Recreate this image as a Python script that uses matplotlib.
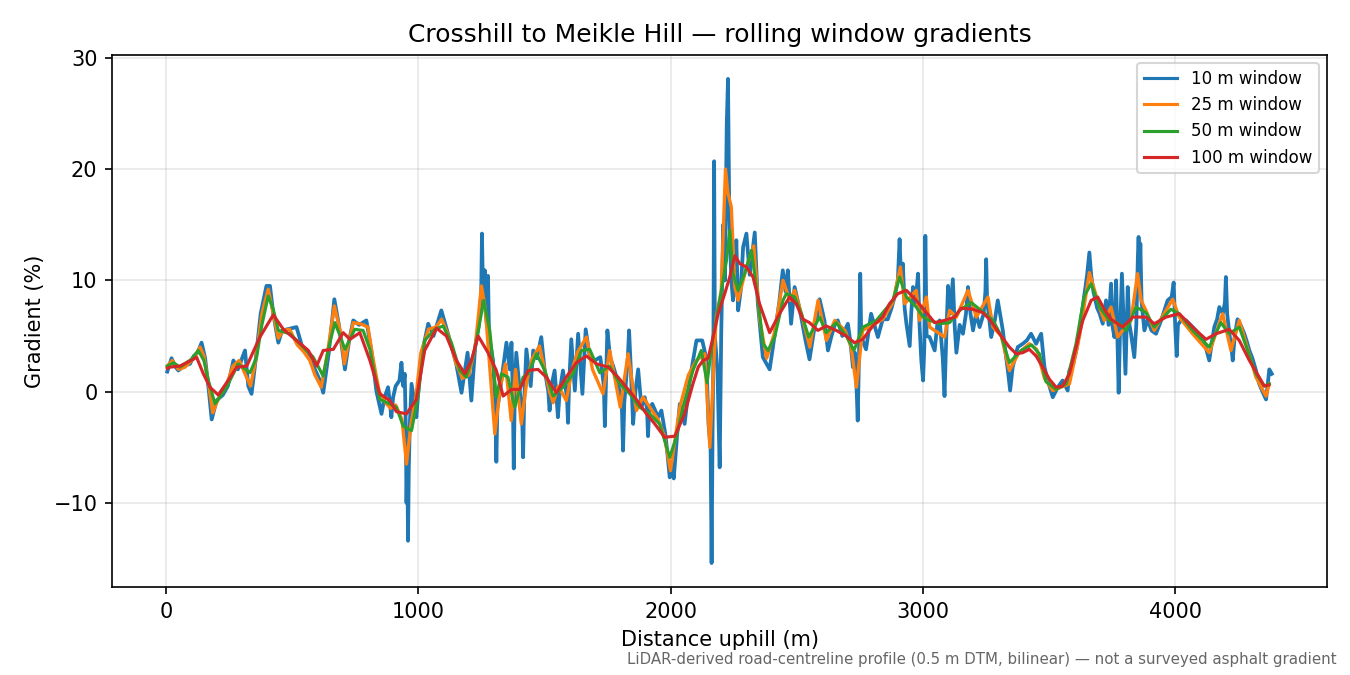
import matplotlib
matplotlib.use("Agg")
import matplotlib.pyplot as plt

# Each series: (distance uphill in m, gradient in %)

# ---- 10 m window ----
window_10 = [
    (5, 1.8), (22, 3.0), (35, 2.3), (49, 1.9), (70, 2.3), (95, 2.5), (110, 3.2), (125, 3.5), (141, 4.4), (155, 3.0),
    (170, 0.0), (181, -2.5), (200, -0.8), (225, -0.3), (245, 0.5), (267, 2.8), (285, 2.0), (313, 3.7), (326, 0.5), (339, -0.2),
    (355, 2.8), (375, 7.0), (398, 9.5), (412, 9.5), (425, 7.0), (445, 4.4), (460, 5.5), (480, 5.6), (517, 5.8), (540, 4.0),
    (565, 3.5), (590, 2.0), (610, 1.0), (623, -0.1), (645, 3.5), (667, 8.3), (685, 6.0), (709, 2.0), (725, 4.5), (742, 6.4),
    (765, 6.0), (794, 6.4), (815, 3.5), (834, 0.0), (854, -2.0), (866, -0.5), (880, 0.4), (887, -1.0), (893, -2.3), (900, -0.5),
    (910, 0.5), (925, 1.0), (933, 2.6), (940, 0.5), (946, 1.6), (950, -3.0), (953, -10.0), (956, -6.0), (959, -13.4), (962, -7.0),
    (966, -3.0), (973, 0.7), (985, -1.0), (992, -2.3), (1000, 0.0), (1010, 3.0), (1039, 6.1), (1060, 5.0), (1091, 7.3), (1120, 5.0),
    (1150, 2.5), (1171, -0.1), (1185, 2.0), (1195, 3.5), (1210, -0.8), (1225, 4.0), (1240, 6.0), (1249, 9.0), (1252, 14.2), (1256, 9.0),
    (1260, 8.0), (1263, 10.9), (1267, 7.0), (1272, 6.0), (1276, 10.4), (1280, 5.0), (1296, 2.8), (1305, -1.0), (1309, -6.3), (1313, -1.5),
    (1322, -0.2), (1335, 2.0), (1349, 4.4), (1362, 2.0), (1369, 4.4), (1374, 0.0), (1378, -6.9), (1382, 0.0), (1388, 3.5), (1400, 0.5),
    (1411, -2.0), (1415, -5.9), (1419, -1.0), (1428, 3.8), (1445, 0.5), (1455, 3.7), (1470, 3.0), (1487, 4.9), (1500, 2.0), (1515, 0.0),
    (1520, -1.7), (1527, 0.5), (1540, 1.9), (1553, -2.3), (1560, 0.0), (1573, 1.9), (1589, -0.5), (1593, -2.8), (1597, 0.5), (1606, 4.7),
    (1620, 0.1), (1633, 5.2), (1650, -0.2), (1663, 5.6), (1680, 3.0), (1699, 2.8), (1721, 3.1), (1735, 0.5), (1739, -3.1), (1743, 0.5),
    (1749, 5.5), (1760, 3.0), (1772, 2.3), (1789, 1.0), (1806, -1.0), (1811, -5.3), (1816, -1.0), (1830, 3.0), (1835, 5.5), (1840, 3.0),
    (1851, -2.9), (1860, 0.0), (1871, 2.0), (1884, -1.4), (1897, -0.5), (1906, -1.5), (1910, -4.0), (1915, -1.5), (1927, -1.1), (1950, -2.3),
    (1963, -1.7), (1980, -4.0), (1996, -7.7), (2004, -6.5), (2012, -7.8), (2025, -4.0), (2036, -1.1), (2045, -1.5), (2055, -2.9), (2075, 1.0),
    (2090, 3.0), (2102, 4.6), (2125, 4.6), (2141, 3.0), (2150, -3.0), (2158, -5.0), (2162, -15.4), (2166, -3.0), (2169, 3.0), (2172, 20.7),
    (2175, 5.0), (2185, 2.0), (2194, -6.8), (2200, 5.0), (2208, 15.0), (2215, 10.0), (2222, 24.0), (2227, 28.1), (2232, 16.0), (2240, 10.0),
    (2247, 8.2), (2253, 10.0), (2260, 13.6), (2267, 7.3), (2277, 9.0), (2287, 13.0), (2300, 14.2), (2313, 10.5), (2333, 14.3), (2345, 8.0),
    (2365, 3.1), (2392, 2.0), (2405, 4.0), (2418, 6.1), (2430, 8.0), (2444, 10.9), (2455, 9.0), (2464, 10.9), (2477, 6.1), (2491, 9.4),
    (2505, 8.0), (2517, 6.7), (2535, 4.5), (2550, 2.9), (2570, 5.8), (2582, 7.0), (2590, 8.3), (2609, 6.4), (2623, 3.7), (2636, 4.9),
    (2650, 6.0), (2662, 6.4), (2680, 5.0), (2702, 6.1), (2712, 4.5), (2722, 2.2), (2730, 3.5), (2737, 0.0), (2741, -2.6), (2746, 3.0),
    (2751, 10.6), (2755, 5.0), (2762, 4.5), (2774, 3.8), (2794, 7.0), (2821, 4.9), (2840, 6.5), (2860, 6.5), (2875, 7.5), (2887, 8.5),
    (2900, 10.0), (2907, 13.7), (2913, 10.0), (2920, 11.5), (2927, 7.5), (2934, 6.1), (2947, 4.1), (2953, 7.0), (2960, 9.4), (2970, 8.0),
    (2980, 10.6), (2986, 6.0), (2993, 2.8), (3000, 1.0), (3005, 4.0), (3009, 14.0), (3014, 5.0), (3026, 4.9), (3046, 3.7), (3056, 6.0),
    (3066, 6.4), (3078, 3.0), (3085, -0.4), (3092, 5.0), (3099, 9.5), (3108, 7.0), (3118, 10.1), (3125, 6.0), (3132, 3.5), (3145, 6.0),
    (3158, 5.2), (3170, 7.0), (3178, 9.4), (3188, 7.0), (3198, 5.5), (3210, 7.0), (3224, 5.8), (3240, 7.0), (3247, 9.0), (3250, 11.9),
    (3254, 8.0), (3260, 7.0), (3270, 4.9), (3285, 6.5), (3296, 8.2), (3316, 5.5), (3329, 3.1), (3336, 1.9), (3345, 0.1), (3355, 2.2),
    (3375, 4.0), (3395, 4.3), (3411, 4.6), (3428, 5.2), (3448, 4.3), (3468, 5.2), (3481, 2.2), (3494, 1.0), (3514, -0.5), (3534, 0.4),
    (3553, 1.0), (3573, 0.1), (3580, 1.9), (3595, 2.5), (3610, 4.0), (3635, 8.0), (3650, 10.5), (3659, 12.5), (3666, 10.5), (3675, 9.0),
    (3690, 7.5), (3700, 7.0), (3712, 6.1), (3725, 8.2), (3735, 6.0), (3745, 9.7), (3750, 6.0), (3758, 4.9), (3765, 10.0), (3770, 5.0),
    (3775, -0.1), (3780, 5.0), (3788, 10.6), (3795, 6.0), (3802, 1.6), (3806, 5.0), (3811, 9.4), (3818, 6.0), (3824, 5.2), (3837, 3.1),
    (3845, 6.0), (3851, 12.0), (3854, 13.9), (3858, 10.0), (3861, 13.3), (3866, 8.0), (3877, 5.5), (3890, 6.5), (3905, 5.5), (3923, 5.2),
    (3945, 6.5), (3969, 8.2), (3985, 8.5), (3993, 9.8), (3999, 6.0), (4005, 3.2), (4010, 6.0), (4025, 6.5), (4042, 6.4), (4060, 6.0),
    (4081, 5.5), (4095, 5.0), (4108, 4.9), (4120, 4.0), (4134, 2.8), (4145, 4.5), (4154, 5.8), (4165, 6.5), (4174, 7.6), (4188, 7.0),
    (4196, 8.0), (4200, 10.3), (4205, 7.0), (4215, 5.0), (4222, 4.0), (4227, 2.8), (4235, 5.0), (4246, 6.5), (4258, 6.0), (4273, 5.2),
    (4283, 4.5), (4293, 3.7), (4305, 3.0), (4318, 2.0), (4332, 0.7), (4345, 0.0), (4359, -0.7), (4365, 0.5), (4372, 2.0), (4382, 1.6),
]

# ---- 25 m window ----
window_25 = [
    (5, 2.3), (25, 2.8), (50, 2.0), (75, 2.2), (110, 3.0), (135, 4.0), (150, 3.2), (170, 0.5), (185, -1.9), (210, -0.5),
    (240, 0.6), (265, 2.3), (290, 2.8), (315, 1.5), (335, 0.5), (355, 2.8), (380, 7.0), (405, 9.2), (425, 7.0), (445, 4.8),
    (465, 5.5), (490, 5.6), (520, 4.2), (545, 3.6), (570, 2.8), (590, 1.5), (615, 0.4), (640, 3.5), (667, 7.7), (690, 5.5),
    (707, 2.5), (720, 4.0), (742, 6.2), (770, 6.1), (800, 5.8), (820, 3.0), (845, 0.0), (870, -1.0), (890, -1.5), (910, -1.2),
    (935, -2.5), (953, -6.5), (970, -3.0), (990, -0.5), (1010, 3.5), (1040, 5.6), (1070, 5.8), (1092, 6.5), (1120, 5.0), (1150, 2.5),
    (1175, 1.2), (1200, 1.5), (1225, 4.0), (1250, 9.5), (1265, 7.5), (1280, 3.0), (1303, -3.8), (1325, 0.5), (1345, 2.5), (1368, -2.6),
    (1385, 2.0), (1408, -2.9), (1430, 1.0), (1452, 3.0), (1480, 4.1), (1500, 2.0), (1520, 0.0), (1534, -1.0), (1555, 0.5), (1586, -0.8),
    (1610, 2.0), (1630, 3.5), (1666, 4.9), (1690, 2.0), (1732, -0.2), (1758, 3.7), (1800, -1.4), (1831, 3.4), (1864, -1.7), (1890, -0.5),
    (1920, -1.5), (1950, -2.5), (1975, -4.0), (1999, -7.1), (2036, -1.4), (2070, 1.5), (2102, 2.8), (2135, 3.4), (2155, -5.0), (2180, 6.7),
    (2200, 9.0), (2217, 20.0), (2227, 17.8), (2240, 16.6), (2254, 9.4), (2267, 8.2), (2300, 11.2), (2329, 13.1), (2353, 6.4), (2380, 3.0),
    (2410, 5.2), (2445, 10.0), (2472, 8.2), (2491, 9.1), (2518, 7.0), (2551, 4.0), (2584, 8.2), (2617, 4.6), (2650, 6.4), (2690, 5.5),
    (2715, 4.0), (2736, 0.4), (2760, 5.5), (2800, 6.0), (2840, 6.5), (2880, 8.0), (2910, 11.2), (2927, 7.9), (2973, 9.1), (2986, 6.4),
    (3013, 8.5), (3026, 5.8), (3085, 4.9), (3105, 7.3), (3132, 6.7), (3178, 9.1), (3211, 6.7), (3257, 8.5), (3277, 5.8), (3310, 5.0),
    (3342, 1.9), (3380, 3.5), (3421, 4.3), (3450, 3.8), (3481, 1.2), (3514, 0.1), (3580, 0.7), (3620, 5.0), (3659, 10.7), (3699, 7.6),
    (3718, 6.4), (3745, 7.6), (3771, 4.9), (3791, 5.5), (3824, 6.4), (3850, 10.6), (3864, 8.2), (3883, 7.3), (3916, 5.5), (3989, 8.3),
    (4015, 6.7), (4068, 5.2), (4134, 3.5), (4187, 7.0), (4220, 3.7), (4253, 6.4), (4319, 1.3), (4359, -0.4), (4372, 0.7),
]

# ---- 50 m window ----
window_50 = [
    (5, 2.3), (30, 2.6), (55, 2.2), (100, 2.9), (128, 3.7), (150, 2.8), (168, 1.0), (194, -1.1), (240, 0.4), (286, 2.5),
    (333, 1.7), (359, 3.1), (380, 6.0), (405, 8.6), (425, 7.4), (445, 5.5), (491, 5.2), (544, 4.0), (583, 3.1), (623, 1.4),
    (645, 4.0), (669, 6.2), (690, 5.0), (709, 3.8), (748, 5.6), (781, 5.5), (808, 3.8), (847, -0.7), (887, -1.1), (913, -1.4),
    (940, -3.1), (973, -3.5), (1000, -0.2), (1025, 4.6), (1065, 5.6), (1098, 5.9), (1131, 4.4), (1164, 1.9), (1190, 1.3), (1223, 3.7),
    (1259, 8.2), (1283, 5.5), (1309, -0.5), (1329, 1.6), (1355, 1.3), (1382, -1.4), (1415, 1.3), (1435, 1.6), (1468, 3.4), (1501, 1.9),
    (1534, -0.4), (1573, 0.4), (1613, 1.6), (1646, 3.7), (1679, 3.8), (1719, 1.7), (1758, 2.3), (1798, 0.7), (1838, -0.2), (1877, -1.4),
    (1917, -2.0), (1956, -2.9), (1996, -5.9), (2022, -4.1), (2049, -1.4), (2088, 1.9), (2121, 3.7), (2144, 0.8), (2168, 5.0), (2194, 8.2),
    (2221, 11.8), (2234, 14.5), (2247, 10.6), (2267, 9.1), (2293, 10.6), (2320, 12.7), (2346, 8.2), (2366, 4.3), (2386, 3.7), (2412, 4.9),
    (2445, 8.2), (2458, 8.8), (2491, 8.5), (2518, 7.0), (2547, 4.9), (2590, 6.7), (2616, 5.3), (2656, 6.2), (2696, 5.0), (2726, 3.7),
    (2762, 5.8), (2815, 6.4), (2881, 8.2), (2907, 10.3), (2934, 8.5), (2973, 7.6), (3000, 6.7), (3026, 6.4), (3066, 6.1), (3105, 6.2),
    (3145, 7.3), (3191, 8.0), (3224, 7.4), (3277, 6.4), (3310, 5.0), (3342, 2.6), (3389, 3.7), (3430, 4.2), (3461, 3.4), (3487, 0.9),
    (3527, 0.2), (3567, 0.7), (3606, 4.3), (3639, 8.6), (3666, 9.7), (3699, 7.6), (3738, 6.4), (3778, 6.1), (3804, 5.5), (3844, 7.6),
    (3883, 7.1), (3916, 5.8), (3982, 7.4), (4015, 7.0), (4068, 5.5), (4134, 4.0), (4180, 6.2), (4213, 5.2), (4253, 5.8), (4319, 1.6),
    (4352, 0.5), (4372, 0.7),
]

# ---- 100 m window ----
window_100 = [
    (5, 2.1), (16, 2.2), (55, 2.3), (108, 2.9), (121, 3.1), (148, 1.6), (174, 0.4), (207, -0.3), (240, 0.8), (280, 2.2),
    (320, 2.3), (372, 4.9), (425, 6.9), (465, 5.6), (517, 4.6), (564, 3.7), (597, 2.3), (623, 3.7), (663, 3.8), (702, 5.3),
    (729, 4.7), (768, 5.3), (808, 2.8), (847, -0.2), (887, -0.8), (913, -1.8), (953, -2.0), (992, -0.7), (1025, 3.7), (1072, 5.7),
    (1111, 5.0), (1151, 2.8), (1184, 1.6), (1210, 2.8), (1237, 5.0), (1276, 3.5), (1309, 1.9), (1336, -0.4), (1369, 0.2), (1402, 0.2),
    (1435, 1.9), (1474, 2.0), (1507, 1.3), (1547, -0.1), (1586, 1.3), (1626, 2.6), (1666, 3.2), (1706, 2.5), (1752, 2.2), (1791, 1.3),
    (1831, 0.2), (1864, -0.7), (1904, -2.0), (1937, -2.9), (1976, -4.1), (2016, -4.0), (2055, -2.0), (2088, 0.7), (2109, 2.2), (2128, 2.8),
    (2148, 3.0), (2168, 4.9), (2188, 7.0), (2214, 8.8), (2234, 10.3), (2254, 12.2), (2274, 11.5), (2300, 11.2), (2326, 10.3), (2352, 7.9),
    (2392, 5.3), (2431, 7.0), (2471, 8.5), (2497, 7.9), (2524, 6.5), (2550, 6.2), (2583, 5.5), (2616, 5.9), (2656, 5.5), (2695, 5.0),
    (2728, 4.4), (2761, 4.7), (2801, 5.9), (2840, 6.7), (2867, 7.9), (2900, 8.8), (2934, 9.1), (2973, 8.2), (3013, 7.1), (3046, 6.2),
    (3085, 6.4), (3125, 6.7), (3151, 7.5), (3198, 7.4), (3237, 7.1), (3263, 6.5), (3303, 5.2), (3342, 4.0), (3369, 3.4), (3395, 3.5),
    (3421, 3.8), (3448, 3.2), (3474, 2.2), (3501, 1.1), (3527, 0.4), (3553, 0.5), (3580, 1.6), (3600, 3.4), (3633, 6.4), (3666, 8.2),
    (3692, 8.5), (3718, 7.4), (3745, 6.5), (3791, 5.8), (3831, 6.7), (3883, 6.7), (3916, 6.1), (3963, 6.7), (4015, 7.0), (4068, 5.8),
    (4121, 4.7), (4161, 5.2), (4213, 5.6), (4253, 4.6), (4293, 2.8), (4332, 1.3), (4352, 0.5), (4370, 0.6),
]

series_labels = ["10 m window", "25 m window", "50 m window", "100 m window"]
series_colors = ["#1f77b4", "#ff7f0e", "#2ca02c", "#d62728"]
series_widths = [1.8, 1.6, 1.5, 1.5]

fig = plt.figure(figsize=(9, 4.5), dpi=150)
ax = fig.add_axes([0.083, 0.130, 0.900, 0.789])

for data, lab, col, lw in zip([window_10, window_25, window_50, window_100], series_labels, series_colors, series_widths):
    xs = [p[0] for p in data]
    ys = [p[1] for p in data]
    ax.plot(xs, ys, color=col, lw=lw, label=lab)

ax.set_title("Crosshill to Meikle Hill \u2014 rolling window gradients", fontsize=12)
ax.set_xlabel("Distance uphill (m)", fontsize=10)
ax.set_ylabel("Gradient (%)", fontsize=10)
ax.grid(True, alpha=0.3)
ax.set_xticks([0, 1000, 2000, 3000, 4000])
ax.set_yticks([-10, 0, 10, 20, 30])
leg = ax.legend(loc="upper right", fontsize=8)
for line in leg.get_lines():
    line.set_linewidth(1.5)
fig.text(0.99, 0.012, "LiDAR-derived road-centreline profile (0.5 m DTM, bilinear) \u2014 not a surveyed asphalt gradient",
         ha="right", va="bottom", fontsize=7.2, color="#666666")

fig.savefig("out.png", dpi=150)
